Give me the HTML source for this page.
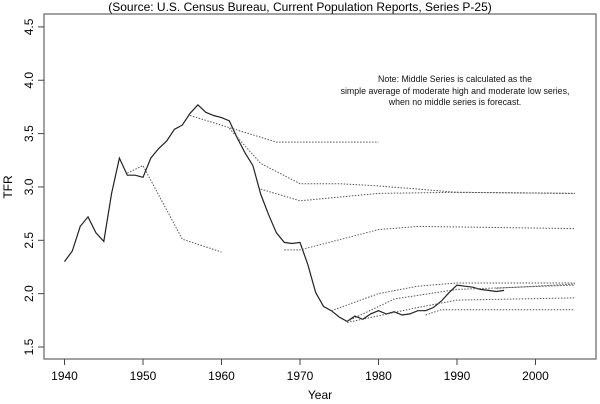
<!DOCTYPE html><html><head><style>body{margin:0;background:#fff}svg{display:block;font-family:"Liberation Sans",Arial,sans-serif}</style></head><body>
<svg id="s" width="600" height="404" xmlns="http://www.w3.org/2000/svg">
<rect x="0" y="0" width="600" height="404" fill="#fff"/>
<text x="300" y="11" font-size="12" text-anchor="middle">(Source: U.S. Census Bureau, Current Population Reports, Series P-25)</text>
<rect x="44" y="14" width="552" height="345" fill="none" stroke="#444" stroke-width="1"/>
<g font-size="8.8" text-anchor="middle" fill="#111">
<text x="455" y="82">Note: Middle Series is calculated as the</text>
<text x="455" y="94">simple average of moderate high and moderate low series,</text>
<text x="455" y="105">when no middle series is forecast.</text>
</g>
<text x="320" y="399" font-size="12" text-anchor="middle">Year</text>
<text transform="translate(12,187) rotate(-90)" font-size="12" text-anchor="middle">TFR</text>
<g id="g"></g>
</svg>
<script>
var g=document.getElementById('g'),NS='http://www.w3.org/2000/svg';
function X(y){return 64.5+(y-1940)*7.85}function Y(v){return 347-(v-1.5)*106.7}
function el(t,a){var e=document.createElementNS(NS,t);for(var k in a)e.setAttribute(k,a[k]);g.appendChild(e);return e}
[1940,1950,1960,1970,1980,1990,2000].forEach(function(y){el('line',{x1:X(y),x2:X(y),y1:359,y2:365,stroke:'#444'});var t=el('text',{x:X(y),y:380,'font-size':12,'text-anchor':'middle'});t.textContent=y});
[1.5,2,2.5,3,3.5,4,4.5].forEach(function(v){el('line',{x1:38,x2:44,y1:Y(v),y2:Y(v),stroke:'#444'});var t=el('text',{'font-size':12,'text-anchor':'middle',transform:'translate(33,'+Y(v)+') rotate(-90)'});t.textContent=v.toFixed(1)});
var a=[2.30,2.40,2.63,2.72,2.57,2.49,2.94,3.27,3.11,3.11,3.09,3.27,3.36,3.43,3.54,3.58,3.69,3.77,3.70,3.67,3.65,3.62,3.46,3.32,3.20,2.93,2.74,2.57,2.48,2.47,2.48,2.27,2.01,1.88,1.84,1.78,1.74,1.79,1.76,1.81,1.84,1.81,1.83,1.80,1.81,1.84,1.84,1.87,1.93,2.01,2.08,2.07,2.06,2.04,2.03,2.02,2.03];
function P(pts,st){var d=pts.map(function(p,i){return(i?'L':'M')+X(p[0]).toFixed(1)+' '+Y(p[1]).toFixed(1)}).join('');var o={d:d,fill:'none',stroke:st?'#222':'#555','stroke-width':st?1.2:1};if(!st)o['stroke-dasharray']='1.5,1.5';el('path',o)}
P(a.map(function(v,i){return[1940+i,v]}),1);
[[[1948,3.13],[1950,3.2],[1955,2.51],[1960,2.39]],
[[1956,3.67],[1967,3.42],[1980,3.42]],
[[1961,3.55],[1965,3.22],[1970,3.03],[1975,3.03],[1980,3.01],[1990,2.95],[2005,2.94]],
[[1965,2.98],[1970,2.87],[1980,2.94],[1990,2.95],[2005,2.94]],
[[1968,2.41],[1970,2.41],[1980,2.60],[1985,2.63],[2005,2.61]],
[[1974,1.84],[1980,2.00],[1985,2.07],[1990,2.10],[2005,2.10]],
[[1976,1.74],[1980,1.88],[1982,1.95],[1990,2.04],[2005,2.08]],
[[1976,1.73],[1985,1.87],[1990,1.94],[2005,1.96]],
[[1986,1.80],[1988,1.85],[2005,1.85]],
[[1995,2.05],[2005,2.09]]].forEach(function(p){P(p,0)});
</script></body></html>
